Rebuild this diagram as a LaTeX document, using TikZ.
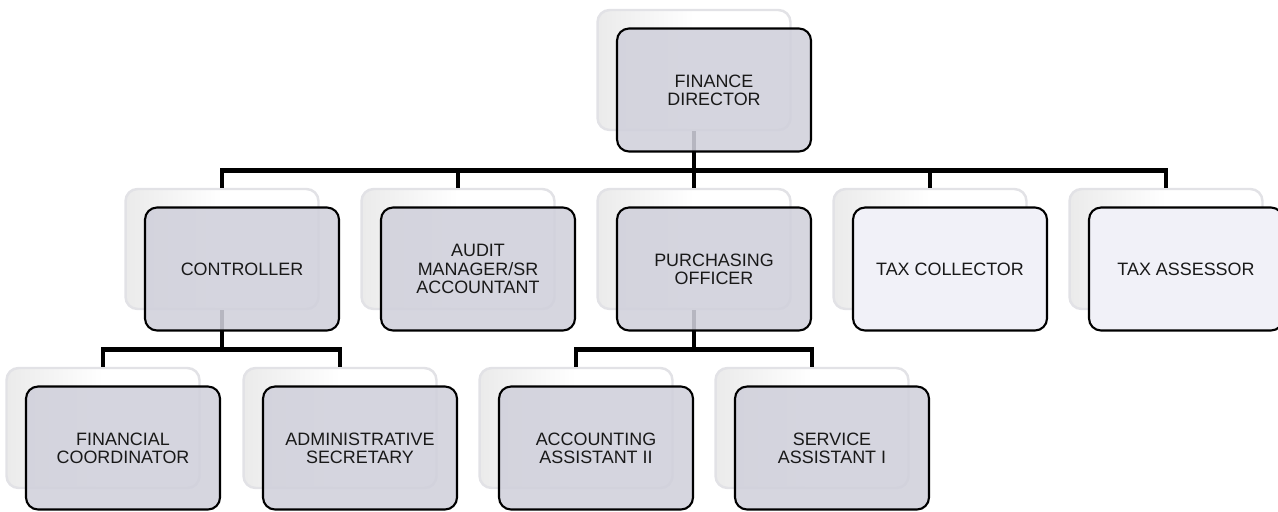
\documentclass[tikz,border=0pt]{standalone}
\usepackage{fontspec}
\setmainfont{Liberation Sans}
\usepackage{tikz}
\usetikzlibrary{positioning}
\tikzstyle{chart} = [x = 0.02cm, y = -0.02cm]
\definecolor{frontColor}{RGB}{208,208,219}
\definecolor{paleColor}{RGB}{241,241,248}
\definecolor{backEdge}{RGB}{226,226,230}
\tikzstyle{backBoxStyle} = [draw=backEdge, left color=gray!16, right color=white, middle color=white, rounded corners = .24cm, line width = 1.4pt, minimum width = 3.86cm, minimum height = 2.40cm, inner sep = 0pt]
\tikzstyle{frontBoxStyle} = [draw=black, fill=frontColor, fill opacity=.88, text opacity=1, rounded corners = .24cm, line width = 1.2pt, minimum width = 3.88cm, minimum height = 2.46cm, inner sep = 0pt, align=center, text=black!90, font=\fontsize{10.2}{10.4}\selectfont]
\tikzstyle{paleBoxStyle} = [frontBoxStyle, fill=paleColor, fill opacity=1]
\tikzstyle{orgLine} = [line width = 2.8pt, color=black]
\newcommand{\backBox}[3]{\node [backBoxStyle] (#1) at (#2, #3) {};}
\newcommand{\frontBox}[4][frontBoxStyle]{\node [#1] (#2) at ([shift={(20,20)}]#3.center) {#4};}
\newcommand{\orgLink}[2]{\draw [orgLine] (#1.south) -- ++(0,39) -| (#2.north);}

\begin{document}
\begin{tikzpicture}[chart]
  \useasboundingbox (0,0) rectangle (1278,511);
  % back boxes
  \backBox{directorBack}{694}{70}
  \backBox{controllerBack}{222}{249}
  \backBox{auditBack}{458}{249}
  \backBox{purchasingBack}{694}{249}
  \backBox{collectorBack}{930}{249}
  \backBox{assessorBack}{1166}{249}
  \backBox{coordinatorBack}{103}{428}
  \backBox{secretaryBack}{340}{428}
  \backBox{accountingBack}{576}{428}
  \backBox{serviceBack}{812}{428}

  \orgLink{directorBack}{controllerBack}
  \orgLink{directorBack}{auditBack}
  \orgLink{directorBack}{purchasingBack}
  \orgLink{directorBack}{collectorBack}
  \orgLink{directorBack}{assessorBack}
  \orgLink{controllerBack}{coordinatorBack}
  \orgLink{controllerBack}{secretaryBack}
  \orgLink{purchasingBack}{accountingBack}
  \orgLink{purchasingBack}{serviceBack}

  % front boxes
  \frontBox{director}{directorBack}{FINANCE\\DIRECTOR}
  \frontBox{controller}{controllerBack}{CONTROLLER}
  \frontBox{audit}{auditBack}{AUDIT\\MANAGER/SR\\ACCOUNTANT}
  \frontBox{purchasing}{purchasingBack}{PURCHASING\\OFFICER}
  \frontBox[paleBoxStyle]{collector}{collectorBack}{TAX COLLECTOR}
  \frontBox[paleBoxStyle]{assessor}{assessorBack}{TAX ASSESSOR}
  \frontBox{coordinator}{coordinatorBack}{FINANCIAL\\COORDINATOR}
  \frontBox{secretary}{secretaryBack}{ADMINISTRATIVE\\SECRETARY}
  \frontBox{accounting}{accountingBack}{ACCOUNTING\\ASSISTANT II}
  \frontBox{service}{serviceBack}{SERVICE\\ASSISTANT I}
\end{tikzpicture}
\end{document}
